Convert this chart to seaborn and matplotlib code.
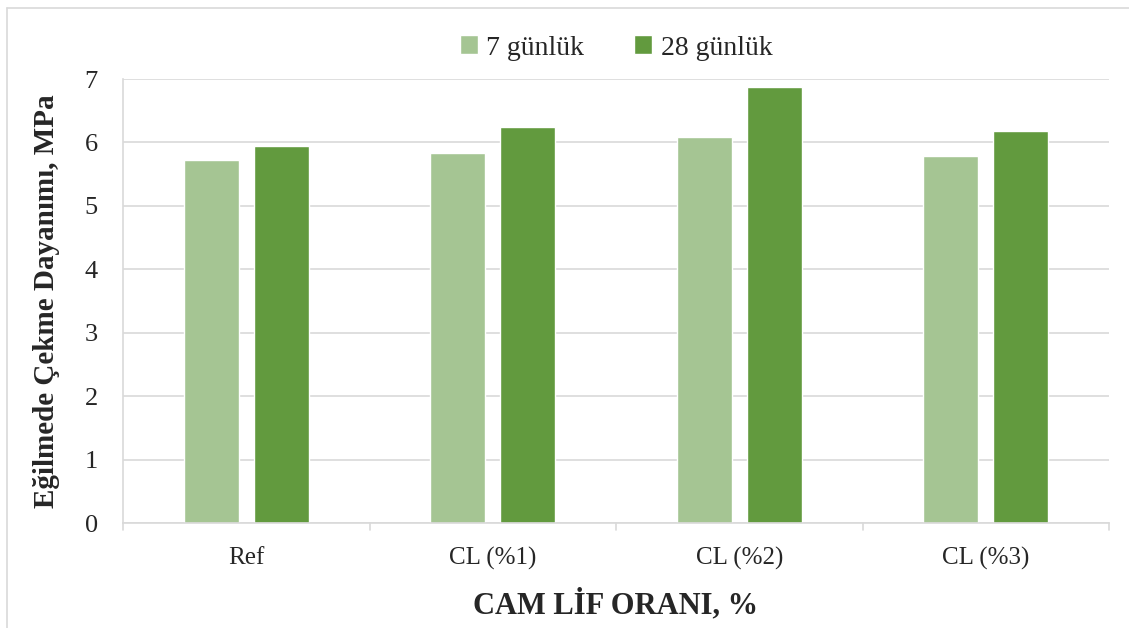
import matplotlib
matplotlib.use("Agg")
import matplotlib.pyplot as plt
from matplotlib.lines import Line2D
import seaborn as sns
import pandas as pd

# Flexural strength (MPa) by glass fibre ratio
categories = ["Ref", "CL (%1)", "CL (%2)", "CL (%3)"]
series_names = ["7 günlük", "28 günlük"]
values_7 = [5.73, 5.83, 6.08, 5.79]
values_28 = [5.94, 6.24, 6.87, 6.18]
y_ticks = [0, 1, 2, 3, 4, 5, 6, 7]

colors = ["#A5C593", "#629A3E"]

df = pd.DataFrame({
    "category": categories * 2,
    "series": [series_names[0]] * len(categories) + [series_names[1]] * len(categories),
    "value": values_7 + values_28,
})

sns.set_style("white")
plt.rcParams["font.family"] = ["Liberation Serif", "DejaVu Serif"]

fig = plt.figure(figsize=(11.29, 6.28), dpi=100)
ax = fig.add_axes([123 / 1129, 1 - 523 / 628, (1109 - 123) / 1129, (523 - 79) / 628])

sns.barplot(data=df, x="category", y="value", hue="series", order=categories,
            hue_order=series_names, palette=colors, width=0.567, gap=0.21,
            saturation=1, ax=ax, legend=True)

ax.set_ylim(0, 7)
ax.set_xlim(-0.5, len(categories) - 0.5)
ax.set_yticks(y_ticks)
ax.set_yticklabels([str(t) for t in y_ticks], fontsize=19)
ax.tick_params(axis="x", labelsize=18, length=0, pad=17)
ax.tick_params(axis="y", length=6, color="#D9D9D9", width=1.2, pad=12)

grid_color = "#D9D9D9"
ax.grid(axis="y", color=grid_color, linewidth=1.2)
ax.set_axisbelow(True)
for side in ["top", "right"]:
    ax.spines[side].set_visible(False)
ax.spines["left"].set_color(grid_color)
ax.spines["bottom"].set_color(grid_color)
ax.spines["left"].set_linewidth(1.2)
ax.spines["bottom"].set_linewidth(1.2)

# category boundary tick marks below the x axis
for b in [i - 0.5 for i in range(len(categories) + 1)]:
    ax.plot([b, b], [0, -0.11], color=grid_color, linewidth=1.2, clip_on=False)

ax.set_xlabel("CAM LİF ORANI, %", fontsize=22, fontweight="bold", labelpad=14)
ax.set_ylabel("Eğilmede Çekme Dayanımı, MPa", fontsize=21, fontweight="bold", labelpad=18)

handles, labels = ax.get_legend_handles_labels()
ax.legend(handles, labels, loc="center", bbox_to_anchor=(0.5, 1 + 31 / 444),
          ncol=2, frameon=False, fontsize=20,
          handlelength=0.65, handleheight=0.65, handletextpad=0.3, columnspacing=1.8)

# outer chart border (left and top edges)
fig.add_artist(Line2D([7 / 1129, 7 / 1129], [0, 1 - 8 / 628], color=grid_color,
                      linewidth=1.2, transform=fig.transFigure))
fig.add_artist(Line2D([7 / 1129, 1], [1 - 8 / 628, 1 - 8 / 628], color=grid_color,
                      linewidth=1.2, transform=fig.transFigure))

fig.savefig("out.png", dpi=100, facecolor="white")
